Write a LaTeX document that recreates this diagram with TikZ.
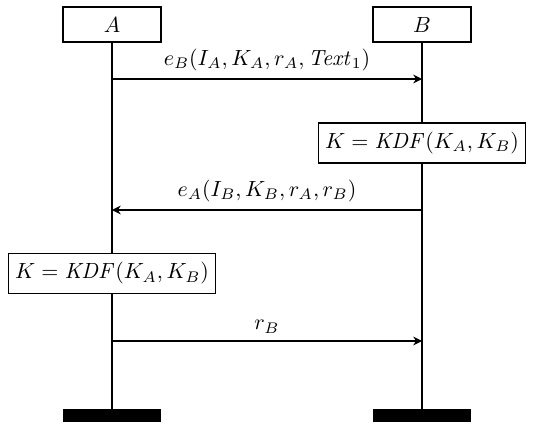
\documentclass[tikz,border=0pt]{standalone}
\usetikzlibrary{arrows.meta}
\begin{document}
\begin{tikzpicture}[>={Stealth[length=4pt,width=4pt,inset=1.3pt]}, party/.style={draw,semithick,minimum width=1.568cm,minimum height=0.56cm,inner sep=0pt}, kdfbox/.style={draw,semithick,fill=white,minimum height=0.64cm,inner xsep=3pt}, endbar/.style={fill=black,minimum width=1.568cm,minimum height=0.208cm,inner sep=0pt}, msg/.style={->,line width=0.5pt}]
\useasboundingbox (0,0) rectangle (8.56,-6.816);
\node[party] (A) at (1.792, -0.392) {$A$};
\node[party] (B) at (6.752, -0.392) {$B$};
\node[kdfbox] (kdfB) at (6.752, -2.288) {$K = \mathit{KDF}(K_A, K_B)$};
\node[kdfbox] (kdfA) at (1.792, -4.376) {$K = \mathit{KDF}(K_A, K_B)$};
\node[endbar] (endA) at (1.792, -6.648) {};
\node[endbar] (endB) at (6.752, -6.648) {};
\draw[thick] (A) -- (kdfA) -- (endA);
\draw[thick] (B) -- (kdfB) -- (endB);
\coordinate (a1) at (1.792, -1.264); \coordinate (b1) at (6.752, -1.264);
\coordinate (b2) at (6.752, -3.36); \coordinate (a2) at (1.792, -3.36);
\coordinate (a3) at (1.792, -5.456); \coordinate (b3) at (6.752, -5.456);
\draw[msg] (a1) to node [above] {$e_B(I_A, K_A, r_A, \mathit{Text}_1)$} (b1);
\draw[msg] (b2) to node [above] {$e_A(I_B, K_B, r_A, r_B)$} (a2);
\draw[msg] (a3) to node [above] {$r_B$} (b3);
\end{tikzpicture}
\end{document}
